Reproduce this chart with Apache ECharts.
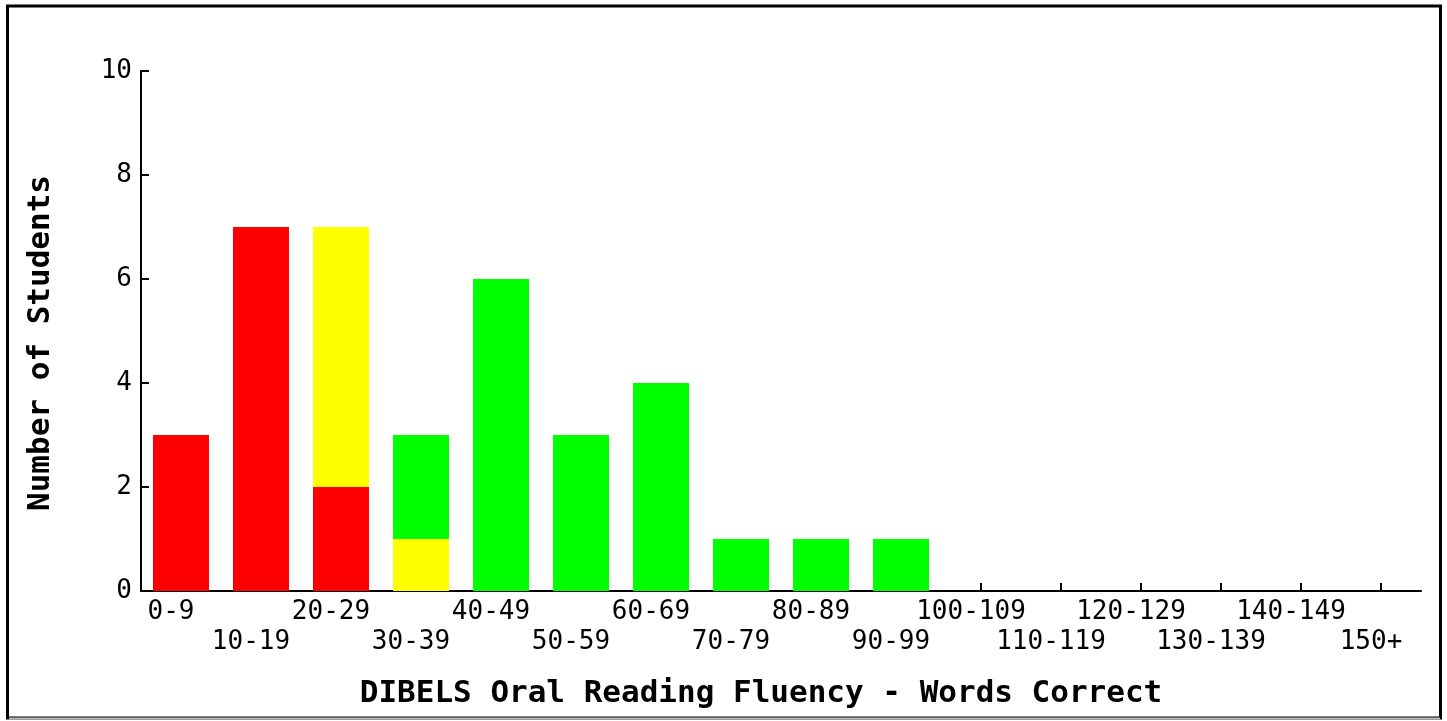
<!DOCTYPE html>
<html>
<head>
<meta charset="utf-8">
<script src="https://cdn.jsdelivr.net/npm/echarts@6/dist/echarts.min.js"></script>
<style>
html,body{margin:0;padding:0;background:#fff;}
#chart{width:1447px;height:721px;}
</style>
</head>
<body>
<div id="chart"></div>
<script>
const categories = ['0-9','10-19','20-29','30-39','40-49','50-59','60-69','70-79','80-89','90-99','100-109','110-119','120-129','130-139','140-149','150+'];
const redValues    = [3,7,2,0,0,0,0,0,0,0,0,0,0,0,0,0];
const yellowValues = [0,0,5,1,0,0,0,0,0,0,0,0,0,0,0,0];
const greenValues  = [0,0,0,2,6,3,4,1,1,1,0,0,0,0,0,0];
const yTicks = [0,2,4,6,8,10];

const FONT = 'DejaVu Sans Mono';
const chart = echarts.init(document.getElementById('chart'));

function barSeries(name, data, color) {
  return {
    name: name, type: 'bar', stack: 'total', data: data, barWidth: 56,
    itemStyle: { color: color }, emphasis: { disabled: true }, animation: false
  };
}

chart.setOption({
  animation: false,
  backgroundColor: '#ffffff',
  grid: { left: 141, top: 71, width: 1280, height: 520, containLabel: false },
  xAxis: {
    type: 'category',
    data: categories,
    name: 'DIBELS Oral Reading Fluency - Words Correct',
    nameLocation: 'middle',
    nameGap: 87,
    nameTextStyle: { fontFamily: FONT, fontWeight: 'bold', fontSize: 31, color: '#000', padding: [0, 40, 0, 0] },
    axisLine: { lineStyle: { color: '#000', width: 2 } },
    axisTick: { show: true, inside: true, length: 8, alignWithLabel: true, interval: 0, lineStyle: { color: '#000', width: 2 } },
    axisLabel: {
      interval: 0, margin: 6, color: '#000', fontFamily: FONT, fontSize: 26, lineHeight: 30,
      padding: [0, 20, 0, 0],
      formatter: function (v, i) { return i % 2 === 1 ? '\n' + v : v; }
    },
    splitLine: { show: false }
  },
  yAxis: {
    type: 'value', min: 0, max: 10, interval: 2,
    name: 'Number of Students',
    nameLocation: 'middle',
    nameGap: 85,
    nameTextStyle: { fontFamily: FONT, fontWeight: 'bold', fontSize: 31, color: '#000', padding: [0, 24, 0, 0] },
    axisLine: { show: true, lineStyle: { color: '#000', width: 2 } },
    axisTick: { show: true, inside: true, length: 8, lineStyle: { color: '#000', width: 2 } },
    axisLabel: {
      color: '#000', fontFamily: FONT, fontSize: 26, margin: 9, padding: [4, 0, 0, 0],
      formatter: function (v) { return yTicks.indexOf(v) >= 0 ? String(v) : ''; }
    },
    splitLine: { show: false }
  },
  series: [
    barSeries('Red', redValues, '#ff0000'),
    barSeries('Yellow', yellowValues, '#ffff00'),
    barSeries('Green', greenValues, '#00ff00')
  ],
  graphic: [
    { type: 'rect', shape: { x: 7.5, y: 6, width: 1433, height: 712 }, style: { fill: 'none', stroke: '#000', lineWidth: 3 }, silent: true },
    { type: 'line', shape: { x1: 9, y1: 718.5, x2: 1440, y2: 718.5 }, style: { stroke: '#bbbbbb', lineWidth: 2 }, silent: true, z: 10 }
  ]
});
</script>
</body>
</html>
